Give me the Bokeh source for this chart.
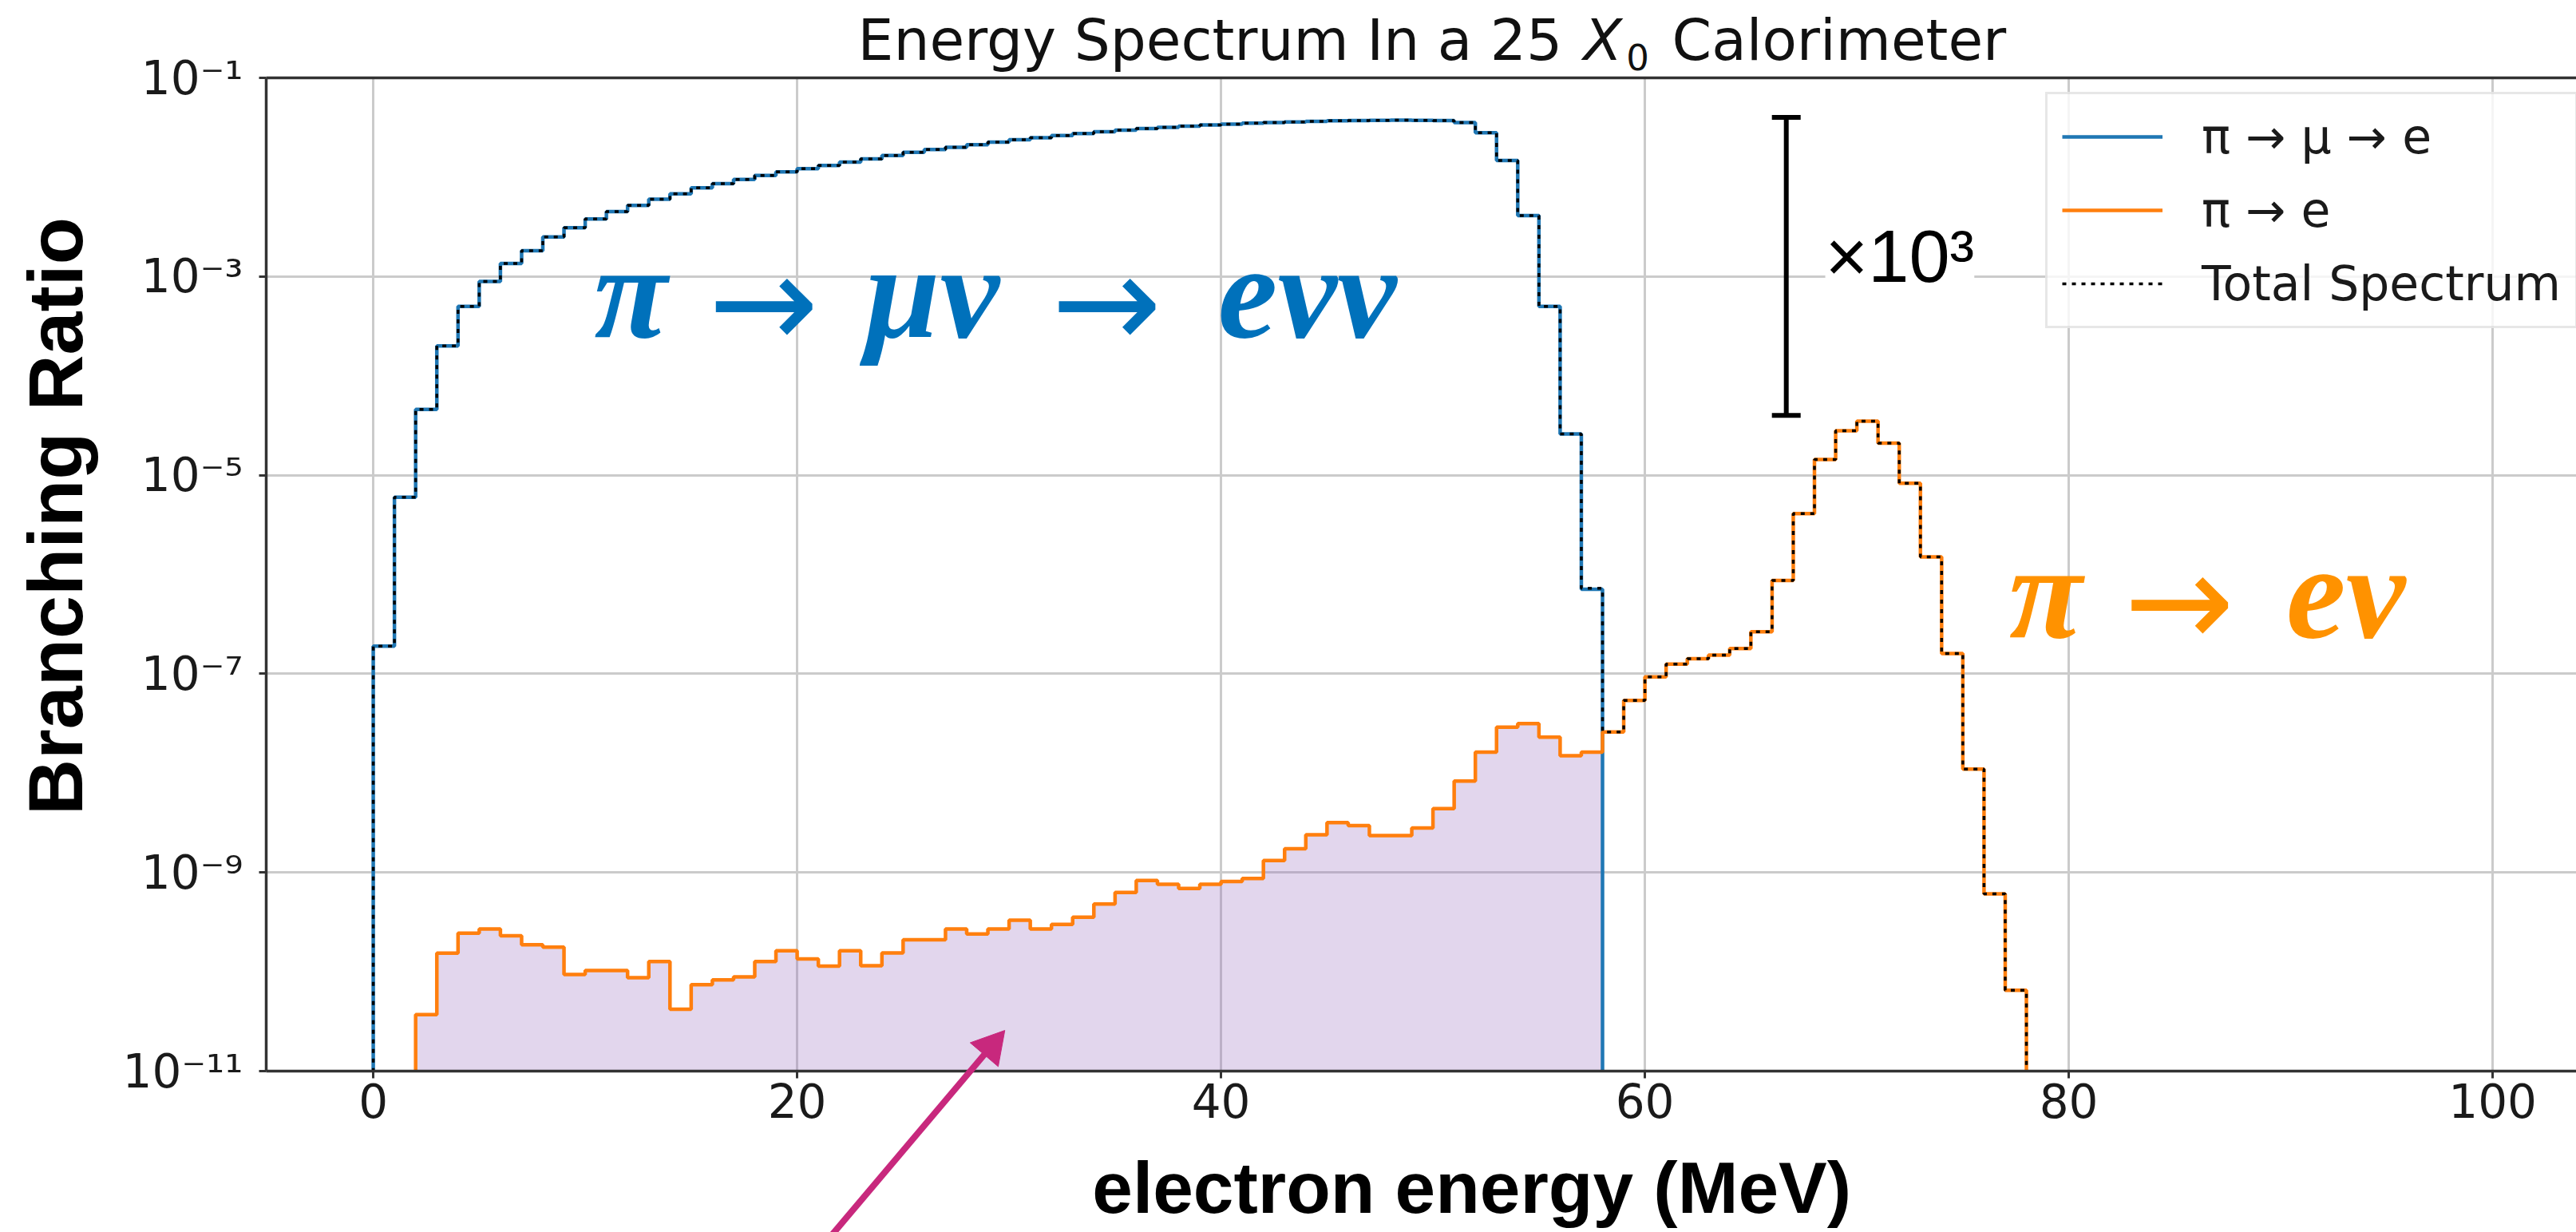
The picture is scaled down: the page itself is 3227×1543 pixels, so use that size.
import numpy as np
from bokeh.plotting import figure
from bokeh.models import (Range1d, FixedTicker, CustomJSTickFormatter, LinearAxis, Label,
                          Legend, LegendItem, Whisker, TeeHead, ColumnDataSource)
from bokeh.core.properties import value
from bokeh.embed import file_html
from bokeh.resources import INLINE

# ---------------------------------------------------------------- data
BIN_WIDTH = 1.0          # MeV per histogram bin
FLOOR = 1e-14            # "empty bin" level, below the visible axis

# pi -> mu -> e spectrum, bins starting at 0 MeV
MU_E_FIRST_EDGE = 0.0
MU_E_BR = [
    1.9e-7, 6.0e-6, 4.6e-5, 2.0e-4, 5.0e-4, 8.9e-4, 1.35e-3, 1.82e-3, 2.5e-3, 3.1e-3,
    3.8e-3, 4.5e-3, 5.2e-3, 6.0e-3, 6.8e-3, 7.8e-3, 8.6e-3, 9.5e-3, 1.04e-2, 1.13e-2,
    1.22e-2, 1.31e-2, 1.42e-2, 1.53e-2, 1.65e-2, 1.78e-2, 1.9e-2, 2.0e-2, 2.12e-2, 2.25e-2,
    2.38e-2, 2.5e-2, 2.62e-2, 2.75e-2, 2.87e-2, 2.98e-2, 3.08e-2, 3.18e-2, 3.27e-2, 3.35e-2,
    3.42e-2, 3.5e-2, 3.55e-2, 3.6e-2, 3.65e-2, 3.7e-2, 3.72e-2, 3.74e-2, 3.75e-2, 3.74e-2,
    3.72e-2, 3.55e-2, 2.8e-2, 1.47e-2, 4.1e-3, 5.0e-4, 2.6e-5, 7.1e-7,
]

# pi -> e spectrum, bins starting at 2 MeV
PI_E_FIRST_EDGE = 2.0
PI_E_BR = [
    3.7e-11, 1.54e-10, 2.45e-10, 2.7e-10, 2.3e-10, 1.87e-10, 1.77e-10, 9.4e-11, 1.03e-10, 1.03e-10,
    8.7e-11, 1.27e-10, 4.2e-11, 7.4e-11, 8.3e-11, 8.9e-11, 1.27e-10, 1.63e-10, 1.35e-10, 1.14e-10,
    1.63e-10, 1.15e-10, 1.55e-10, 2.1e-10, 2.1e-10, 2.7e-10, 2.4e-10, 2.7e-10, 3.3e-10, 2.7e-10,
    3.0e-10, 3.55e-10, 4.8e-10, 6.3e-10, 8.3e-10, 7.6e-10, 6.9e-10, 7.6e-10, 8.1e-10, 8.7e-10,
    1.32e-9, 1.73e-9, 2.4e-9, 3.17e-9, 2.97e-9, 2.35e-9, 2.35e-9, 2.8e-9, 4.4e-9, 8.3e-9,
    1.63e-8, 2.9e-8, 3.15e-8, 2.3e-8, 1.5e-8, 1.63e-8, 2.6e-8, 5.4e-8, 9.3e-8, 1.25e-7,
    1.42e-7, 1.54e-7, 1.8e-7, 2.65e-7, 8.7e-7, 4.1e-6, 1.44e-5, 2.8e-5, 3.5e-5, 2.1e-5,
    8.3e-6, 1.5e-6, 1.6e-7, 1.1e-8, 6.1e-10, 6.5e-11,
]

SERIES_LABELS = ["π → μ → e", "π → e", "Total Spectrum"]
X_TICKS = [0, 20, 40, 60, 80, 100]
Y_TICKS = [1e-11, 1e-9, 1e-7, 1e-5, 1e-3, 1e-1]

# ratio bracket between the two peaks
BRACKET_X = 66.67
BRACKET_TOP = 4e-2
BRACKET_FACTOR = 1e3

BLUE = "#1f77b4"
ORANGE = "#ff7f0e"
TEXT_BLUE = "#0071bb"
TEXT_ORANGE = "#ff9200"
MAGENTA = "#c8287d"
SPINE = "#333333"


def outline(first_edge, values):
    """Closed step outline of a histogram, dropping to FLOOR at both ends."""
    xs, ys = [first_edge], [FLOOR]
    for i, v in enumerate(values):
        lo = first_edge + i * BIN_WIDTH
        xs += [lo, lo + BIN_WIDTH]
        ys += [v, v]
    xs.append(first_edge + len(values) * BIN_WIDTH)
    ys.append(FLOOR)
    return xs, ys


# total = sum of both channels on the common bin grid
first = min(MU_E_FIRST_EDGE, PI_E_FIRST_EDGE)
mu_end = MU_E_FIRST_EDGE + len(MU_E_BR) * BIN_WIDTH
pi_end = PI_E_FIRST_EDGE + len(PI_E_BR) * BIN_WIDTH
n_total = int(round((max(mu_end, pi_end) - first) / BIN_WIDTH))
total = np.zeros(n_total)
mu_off = int(round((MU_E_FIRST_EDGE - first) / BIN_WIDTH))
pi_off = int(round((PI_E_FIRST_EDGE - first) / BIN_WIDTH))
total[mu_off:mu_off + len(MU_E_BR)] += np.array(MU_E_BR)
total[pi_off:pi_off + len(PI_E_BR)] += np.array(PI_E_BR)

mu_x, mu_y = outline(MU_E_FIRST_EDGE, MU_E_BR)
pi_x, pi_y = outline(PI_E_FIRST_EDGE, PI_E_BR)
tot_x, tot_y = outline(first, list(total))

# shaded part of the pi -> e spectrum hidden under the pi -> mu -> e one
fill_x, fill_y = [], []
for i, v in enumerate(PI_E_BR):
    lo = PI_E_FIRST_EDGE + i * BIN_WIDTH
    if lo >= mu_end:
        break
    fill_x += [lo, min(lo + BIN_WIDTH, mu_end)]
    fill_y += [v, v]

# ---------------------------------------------------------------- figure
p = figure(width=3227, height=1543,
           x_range=Range1d(-5.05, 103.95), y_range=Range1d(1e-11, 1e-1),
           y_axis_type="log", output_backend="svg", toolbar_location=None,
           min_border_left=333, min_border_right=0, min_border_top=97, min_border_bottom=202)
p.title.visible = False
p.outline_line_color = None
p.background_fill_color = "white"
p.border_fill_color = "white"

xa = p.xaxis[0]
xa.ticker = FixedTicker(ticks=X_TICKS, minor_ticks=[])
ya = p.yaxis[0]
ya.ticker = FixedTicker(ticks=Y_TICKS, minor_ticks=[])
ya.formatter = CustomJSTickFormatter(code="""
const e = Math.round(Math.log10(tick));
const sup = {"-": "\\u207b", "0": "\\u2070", "1": "\\u00b9", "2": "\\u00b2", "3": "\\u00b3",
             "4": "\\u2074", "5": "\\u2075", "6": "\\u2076", "7": "\\u2077", "8": "\\u2078",
             "9": "\\u2079"};
return "10" + String(e).split("").map((c) => sup[c]).join("");
""")
for ax in (xa, ya):
    ax.major_label_text_font = "DejaVu Sans"
    ax.major_label_text_font_size = "58px"
    ax.major_label_text_color = "#1a1a1a"
    ax.axis_line_color = SPINE
    ax.axis_line_width = 3.5
    ax.major_tick_line_color = SPINE
    ax.major_tick_line_width = 3
    ax.major_tick_out = 9
    ax.major_tick_in = 0
    ax.minor_tick_line_color = None
xa.major_label_standoff = 6
ya.major_label_standoff = 20

top_spine = LinearAxis(ticker=FixedTicker(ticks=[]), major_label_text_font_size="0px",
                       major_tick_out=0, major_tick_in=0, major_label_standoff=0,
                       major_tick_line_color=None, minor_tick_line_color=None,
                       axis_line_color=SPINE, axis_line_width=3.5)
p.add_layout(top_spine, "above")

for g in (p.xgrid[0], p.ygrid[0]):
    g.grid_line_color = "#cbcbcb"
    g.grid_line_width = 3

# ---------------------------------------------------------------- marks
p.varea(x=fill_x, y1=[FLOOR] * len(fill_x), y2=fill_y, fill_color="#9467bd", fill_alpha=0.27)
r_mu = p.line(mu_x, mu_y, line_color=BLUE, line_width=4.5)
r_pi = p.line(pi_x, pi_y, line_color=ORANGE, line_width=4.5)
r_tot = p.line(tot_x, tot_y, line_color="black", line_width=3.5, line_dash="5 7")

legend = Legend(items=[LegendItem(label=SERIES_LABELS[0], renderers=[r_mu]),
                       LegendItem(label=SERIES_LABELS[1], renderers=[r_pi]),
                       LegendItem(label=SERIES_LABELS[2], renderers=[r_tot])],
                location=(2229, 930))
legend.label_text_font = "DejaVu Sans"
legend.label_text_font_size = "60px"
legend.label_text_color = "#1a1a1a"
legend.glyph_width = 126
legend.glyph_height = 68
legend.label_height = 68
legend.label_standoff = 49
legend.spacing = 22
legend.padding = 18
legend.margin = 0
legend.border_line_color = "#d0d0d0"
legend.border_line_width = 3
legend.background_fill_alpha = 0.8
p.add_layout(legend)

# ratio bracket between the two peaks
bsrc = ColumnDataSource(dict(base=[BRACKET_X], lower=[BRACKET_TOP / BRACKET_FACTOR],
                             upper=[BRACKET_TOP]))
p.add_layout(Whisker(source=bsrc, base="base", lower="lower", upper="upper", dimension="height",
                     line_color="black", line_width=6,
                     upper_head=TeeHead(size=36, line_color="black", line_width=6),
                     lower_head=TeeHead(size=36, line_color="black", line_width=6)))
p.add_layout(Label(x=68.51, y=10 ** -2.80, text="×10³", text_font="Liberation Sans",
                   text_font_size="92px", text_color="black", text_align="left",
                   text_baseline="middle", background_fill_color="white"))

# magenta pointer to the shaded region (drawn on top, may leave the frame)
p.segment(x0=[21.2], y0=[10 ** -12.76], x1=[29.15], y1=[10 ** -10.753],
          line_color=MAGENTA, line_width=8, level="overlay")
p.scatter(x=[29.15], y=[10 ** -10.753], marker="triangle", size=46, angle=-0.705,
          fill_color=MAGENTA, line_color=MAGENTA, line_width=1, level="overlay")


# ---------------------------------------------------------------- texts
def words(x, y, text, color, font, size, style="normal", align="center", angle=0.0):
    p.text(x=[x], y=[y], text=[text], text_color=color, text_font=value(font),
           text_font_size=value(size), text_font_style=style, text_align=align,
           text_baseline="middle", angle=angle, level="overlay")


# decay-channel captions
mid_mu_txt = 10 ** -3.154
mid_mu_arr = 10 ** -3.259
words(12.15, mid_mu_txt, "π", TEXT_BLUE, "Liberation Serif", "168px", "bold italic")
words(18.42, mid_mu_arr, "→", TEXT_BLUE, "DejaVu Sans", "165px")
words(26.38, mid_mu_txt, "μν", TEXT_BLUE, "Liberation Serif", "168px", "bold italic")
words(34.61, mid_mu_arr, "→", TEXT_BLUE, "DejaVu Sans", "165px")
words(44.07, mid_mu_txt, "eνν", TEXT_BLUE, "Liberation Serif", "168px", "bold italic")

mid_pi_txt = 10 ** -6.169
mid_pi_arr = 10 ** -6.273
words(78.91, mid_pi_txt, "π", TEXT_ORANGE, "Liberation Serif", "168px", "bold italic")
words(85.22, mid_pi_arr, "→", TEXT_ORANGE, "DejaVu Sans", "165px")
words(93.07, mid_pi_txt, "eν", TEXT_ORANGE, "Liberation Serif", "168px", "bold italic")

# title
t_mid = 10 ** -0.626
words(22.86, t_mid, "Energy Spectrum In a 25", "#111111", "DejaVu Sans", "71px", align="left")
words(57.10, t_mid, "X", "#111111", "DejaVu Sans", "71px", "italic", align="left")
words(59.12, 10 ** -0.787, "0", "#111111", "DejaVu Sans", "45px", align="left")
words(61.28, t_mid, "Calorimeter", "#111111", "DejaVu Sans", "71px", align="left")

# axis titles
words(51.83, 10 ** -12.170, "electron energy (MeV)", "black", "Liberation Sans", "91px", "bold")
words(-15.01, 10 ** -5.413, "Branching Ratio", "black", "Liberation Sans", "97px", "bold",
      angle=np.pi / 2)

open("out.html", "w").write(file_html(p, INLINE))
